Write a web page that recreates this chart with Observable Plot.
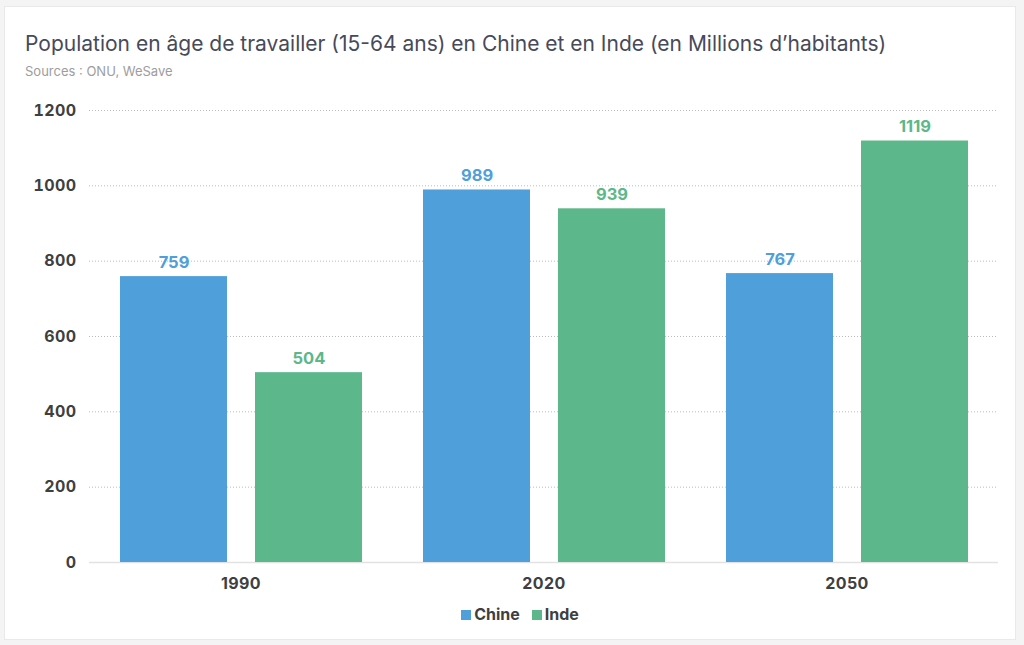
<!DOCTYPE html>
<html>
<head>
<meta charset="utf-8">
<script src="https://cdn.jsdelivr.net/npm/d3@7"></script>
<script src="https://cdn.jsdelivr.net/npm/@observablehq/plot@0.6"></script>
<style>
  html, body { margin: 0; padding: 0; background: #f4f4f4; width: 1024px; height: 645px; overflow: hidden; font-family: Inter, "Noto Sans", sans-serif; }
  #card { position: absolute; left: 4px; top: 6px; width: 1012px; height: 634px; background: #fff; border: 1px solid #e9e9e9; box-sizing: border-box; }
  #title { position: absolute; left: 25px; top: 31px; font-size: 21px; color: #474a5a; white-space: nowrap; }
  #subtitle { position: absolute; left: 25px; top: 63px; font-size: 13px; color: #9d9d9d; white-space: nowrap; }
  #chart { position: absolute; left: 0; top: 90px; }
  #legend { position: absolute; left: 0; width: 1040px; top: 604px; text-align: center; font-size: 16px; font-weight: 700; color: #3f3f3f; }
  #legend span.item { margin: 0 6px; }
  #legend span.sw { display: inline-block; width: 10px; height: 10px; margin-right: 3px; vertical-align: 0px; }
</style>
</head>
<body>
<div id="card"></div>
<div id="title">Population en âge de travailler (15-64 ans) en Chine et en Inde (en Millions d’habitants)</div>
<div id="subtitle">Sources : ONU, WeSave</div>
<div id="chart"></div>
<div id="legend"></div>
<script>
const years = ["1990", "2020", "2050"];
const series = ["Chine", "Inde"];
const chine = [759, 989, 767];
const inde = [504, 939, 1119];
const yTicks = [0, 200, 400, 600, 800, 1000, 1200];
const colors = ["#4f9fda", "#5cb88a"];

const data = [];
years.forEach((yr, i) => {
  data.push({year: yr, series: "Chine", value: chine[i]});
  data.push({year: yr, series: "Inde", value: inde[i]});
});

const plot = Plot.plot({
  width: 1024,
  height: 510,
  marginLeft: 88,
  marginRight: 26,
  marginTop: 20,
  marginBottom: 38,
  style: {fontFamily: "Inter, 'Noto Sans', sans-serif", background: "transparent", overflow: "visible"},
  fx: {domain: years, padding: 0, axis: "bottom", label: null, tickSize: 0, tickPadding: 15},
  x: {domain: series, axis: null, paddingInner: 0.21, paddingOuter: 0.22},
  y: {domain: [0, 1200], ticks: yTicks, tickFormat: d => String(d), label: null, tickSize: 0, tickPadding: 13},
  color: {domain: series, range: colors},
  marks: [
    Plot.gridY(yTicks.filter(d => d > 0), {stroke: "#bdbdbd", strokeOpacity: 1, strokeDasharray: "1,2"}),
    Plot.ruleY([0], {stroke: "#e2e2e2", strokeWidth: 1.5}),
    Plot.barY(data, {fx: "year", x: "series", y: "value", fill: "series"}),
    Plot.text(data, {fx: "year", x: "series", y: "value", text: d => String(d.value), fill: "series",
      lineAnchor: "bottom", dy: -9, fontSize: 16.5, fontWeight: 700})
  ]
});
document.getElementById("chart").appendChild(plot);

plot.querySelectorAll("g[aria-label='y-axis tick label'], g[aria-label='fx-axis tick label']").forEach(el => {
  el.setAttribute("font-size", 16); el.setAttribute("font-weight", 700); el.setAttribute("fill", "#3f3f3f");
  el.setAttribute("letter-spacing", "0.4");
});

const legend = document.getElementById("legend");
series.forEach((s, i) => {
  const item = document.createElement("span");
  item.className = "item";
  item.innerHTML = `<span class="sw" style="background:${colors[i]}"></span>${s}`;
  legend.appendChild(item);
});
</script>
</body>
</html>
